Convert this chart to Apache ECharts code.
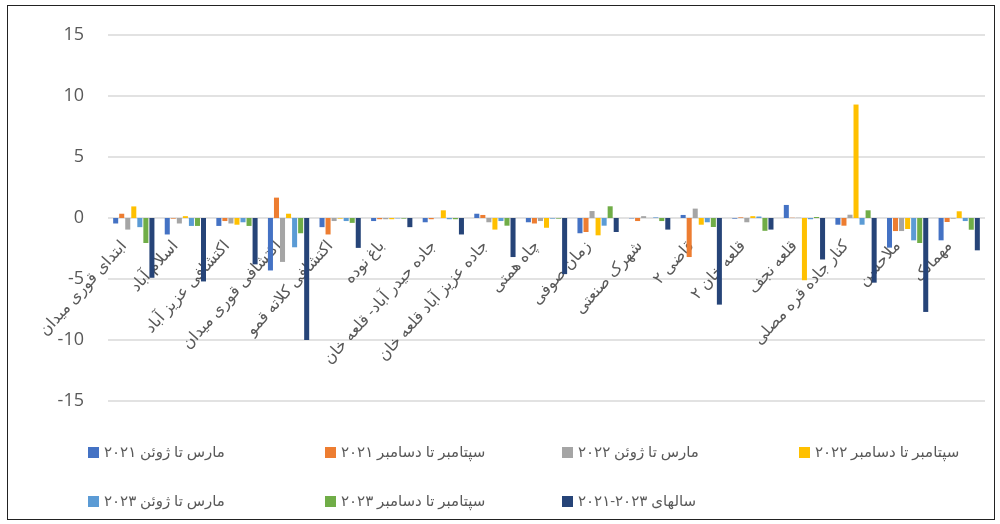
<!DOCTYPE html>
<html>
<head>
<meta charset="utf-8">
<script src="https://cdn.jsdelivr.net/npm/echarts@6/dist/echarts.min.js"></script>
<style>
  html, body { margin: 0; padding: 0; background: #fff; }
  #frame { position: absolute; left: 7px; top: 5px; width: 986px; height: 513px; border: 1px solid #222; }
  #myChart { position: absolute; left: 0; top: 0; width: 1000px; height: 524px; }
</style>
</head>
<body>
<div id="frame"></div>
<div id="myChart"></div>
<script>
    // دسته‌ها (نقاط نمونه‌برداری)
    const categories = [
        'ابتدای قوری میدان', 'اسلام آباد', 'اکتشافی عزیز آباد', 'اکتشافی قوری میدان',
        'اکتشافی کلاته قمو', 'باغ نوده', 'جاده حیدر آباد- قلعه خان', 'جاده عزیز آباد قلعه خان',
        'چاه همتی', 'زمان صوفی', 'شهرک صنعتی', 'قاضی ۲', 'قلعه خان ۲', 'قلعه نجف',
        'کنار جاده قره مصلی', 'ملاحسن', 'مهمانک'
    ];

    const seriesNames = [
        'مارس تا ژوئن ۲۰۲۱', 'سپتامبر تا دسامبر ۲۰۲۱',
        'مارس تا ژوئن ۲۰۲۲', 'سپتامبر تا دسامبر ۲۰۲۲',
        'مارس تا ژوئن ۲۰۲۳', 'سپتامبر تا دسامبر ۲۰۲۳',
        'سالهای ۲۰۲۳-۲۰۲۱'
    ];

    const mar2021 = [-0.45, -1.35, -0.65, -4.3, -0.75, -0.25, -0.35, 0.35, -0.35, -1.25, -0.03, 0.25, -0.05, 1.07, -0.55, -2.43, -1.83];
    const sep2021 = [0.35, -0.05, -0.25, 1.67, -1.35, -0.1, -0.1, 0.25, -0.45, -1.15, -0.25, -3.2, 0.05, 0.02, -0.63, -1.07, -0.33];
    const mar2022 = [-0.95, -0.45, -0.45, -3.6, -0.25, -0.1, 0, -0.35, -0.25, 0.57, 0.15, 0.77, -0.35, 0.02, 0.27, -1.07, -0.05];
    const sep2022 = [0.95, 0.15, -0.55, 0.35, -0.05, -0.1, 0.63, -0.95, -0.8, -1.42, 0, -0.55, 0.15, -5.1, 9.3, -0.9, 0.55];
    const mar2023 = [-0.75, -0.65, -0.35, -2.4, -0.25, -0.03, -0.1, -0.25, -0.05, -0.63, 0.05, -0.35, 0.12, -0.1, -0.55, -1.83, -0.25];
    const sep2023 = [-2.05, -0.65, -0.65, -1.25, -0.4, -0.05, -0.1, -0.63, -0.05, 0.96, -0.25, -0.74, -1.05, 0.08, 0.63, -2.05, -0.96];
    const years2021to2023 = [-4.9, -5.2, -3.8, -10.0, -2.45, -0.75, -1.35, -3.2, -4.6, -1.15, -0.95, -7.1, -0.95, -3.4, -5.3, -7.7, -2.65];

    const yTicks = [-15, -10, -5, 0, 5, 10, 15];

    const seriesData = [mar2021, sep2021, mar2022, sep2022, mar2023, sep2023, years2021to2023];
    const colors = ['#4472C4', '#ED7D31', '#A5A5A5', '#FFC000', '#5B9BD5', '#70AD47', '#264478'];

    const font = "'Open Sans', 'DejaVu Sans', sans-serif";

    // جای هر آیتم راهنما (دو ردیف، چهار ستون)
    const legendPos = [
        [83, 440], [320, 440], [557, 440], [794, 440],
        [83, 489], [320, 489], [557, 489]
    ];

    let myChart = echarts.init(document.getElementById('myChart'));

    // grid: top 35, bottom 123 -> plot height 366, صفر در وسط
    const plotTop = 35, plotBottom = 123, plotH = 524 - plotTop - plotBottom;

    myChart.setOption({
        animation: false,
        color: colors,
        grid: {
            left: 108,
            right: 15,
            top: plotTop,
            bottom: plotBottom,
            containLabel: false,
            outerBoundsMode: 'none'
        },
        legend: seriesNames.map((name, i) => ({
            data: [name],
            left: legendPos[i][0],
            top: legendPos[i][1],
            icon: 'rect',
            itemWidth: 11,
            itemHeight: 11,
            itemGap: 0,
            textStyle: { color: '#595959', fontSize: 15, fontFamily: font }
        })),
        xAxis: {
            type: 'category',
            data: categories,
            offset: -plotH / 2,
            axisLine: { show: false, onZero: false },
            axisTick: { show: false },
            axisLabel: {
                interval: 0,
                rotate: 48,
                margin: 14,
                padding: [0, 15, 0, 0],
                color: '#595959',
                fontSize: 16,
                fontFamily: font
            }
        },
        yAxis: {
            type: 'value',
            min: yTicks[0],
            max: yTicks[yTicks.length - 1],
            interval: 5,
            axisLine: { show: false },
            axisTick: { show: false },
            axisLabel: {
                margin: 24,
                color: '#595959',
                fontSize: 18,
                fontFamily: font
            },
            splitLine: { lineStyle: { color: '#D9D9D9', width: 1.5 } }
        },
        series: seriesNames.map((name, i) => ({
            name: name,
            type: 'bar',
            data: seriesData[i],
            barGap: '20%',
            barCategoryGap: '20%'
        }))
    });
</script>
</body>
</html>
